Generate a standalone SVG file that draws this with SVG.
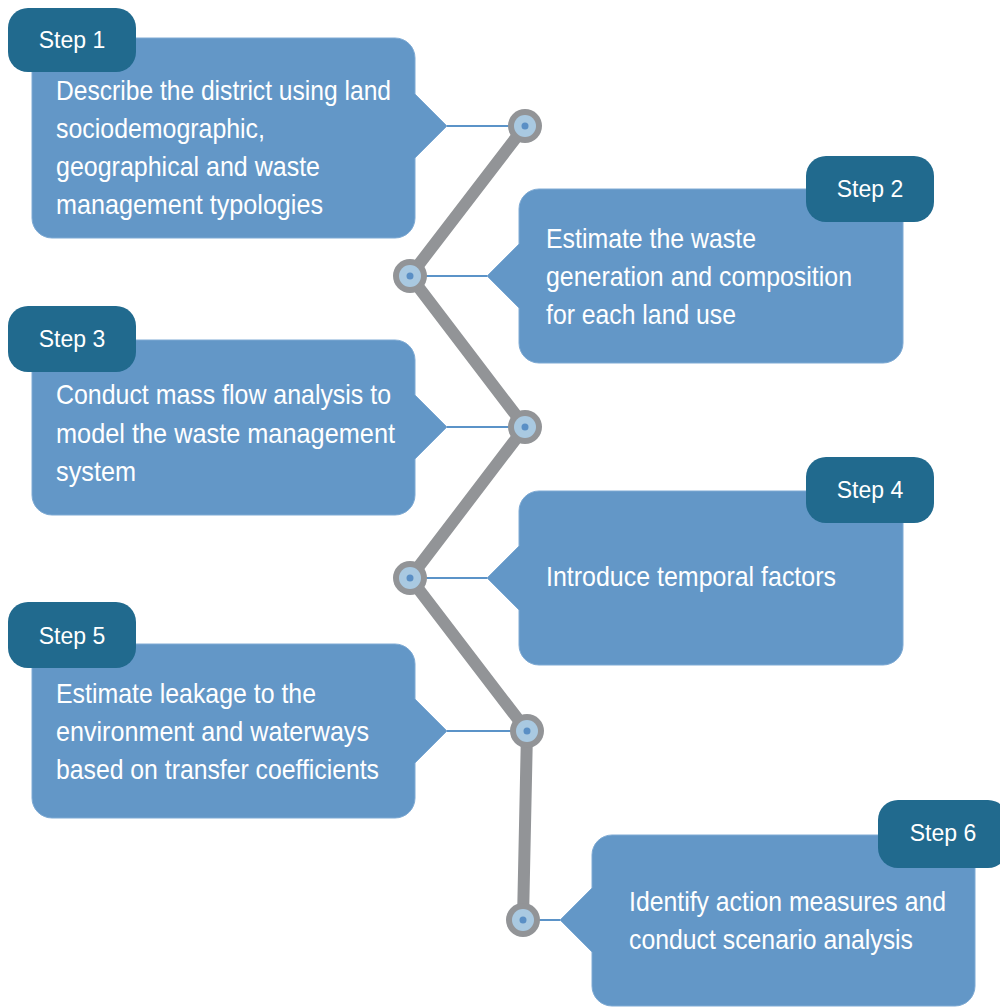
<svg xmlns="http://www.w3.org/2000/svg" width="1000" height="1008" viewBox="0 0 1000 1008">
<style>
.box{fill:#6397c7;stroke:#7eaad4;stroke-width:1}
.tab{fill:#216a8e}
.txt{font-family:"Liberation Sans Narrow","Liberation Sans",Arial,sans-serif;font-size:28px;fill:#ffffff}
.tabtxt{font-family:"Liberation Sans",Arial,sans-serif;font-size:23px;fill:#ffffff;text-anchor:middle}
.spine{fill:none;stroke:#929497;stroke-width:12;stroke-linejoin:round;stroke-linecap:round}
.link{stroke:#5b93c8;stroke-width:2}
.ring{fill:#929497}
.inner{fill:#a9c9e1}
.dot{fill:#5a8fc5}
</style>
<rect width="1000" height="1008" fill="#ffffff"/>
<g id="connectors">
<path class="spine" d="M525,126 L410,276 L525,427 L410,578 L527,731 L523,920"/>
<line class="link" x1="447" y1="126" x2="525" y2="126"/>
<line class="link" x1="487" y1="276" x2="410" y2="276"/>
<line class="link" x1="447" y1="427" x2="525" y2="427"/>
<line class="link" x1="487" y1="578" x2="410" y2="578"/>
<line class="link" x1="447" y1="731" x2="527" y2="731"/>
<line class="link" x1="560" y1="920" x2="523" y2="920"/>
</g>
<g id="joints">
<g id="joint1"><circle class="ring" cx="525" cy="126" r="17"/><circle class="inner" cx="525" cy="126" r="11"/><circle class="dot" cx="525" cy="126" r="3.5"/></g>
<g id="joint2"><circle class="ring" cx="410" cy="276" r="17"/><circle class="inner" cx="410" cy="276" r="11"/><circle class="dot" cx="410" cy="276" r="3.5"/></g>
<g id="joint3"><circle class="ring" cx="525" cy="427" r="17"/><circle class="inner" cx="525" cy="427" r="11"/><circle class="dot" cx="525" cy="427" r="3.5"/></g>
<g id="joint4"><circle class="ring" cx="410" cy="578" r="17"/><circle class="inner" cx="410" cy="578" r="11"/><circle class="dot" cx="410" cy="578" r="3.5"/></g>
<g id="joint5"><circle class="ring" cx="527" cy="731" r="17"/><circle class="inner" cx="527" cy="731" r="11"/><circle class="dot" cx="527" cy="731" r="3.5"/></g>
<g id="joint6"><circle class="ring" cx="523" cy="920" r="17"/><circle class="inner" cx="523" cy="920" r="11"/><circle class="dot" cx="523" cy="920" r="3.5"/></g>
</g>
<g id="step1">
<path class="box" d="M52,38 H395 A20,20 0 0 1 415,58 V94 L447,126 L415,158 V218 A20,20 0 0 1 395,238 H52 A20,20 0 0 1 32,218 V58 A20,20 0 0 1 52,38 Z"/>
<rect class="tab" x="8" y="8" width="128" height="64" rx="20"/>
<text class="tabtxt" x="72" y="48">Step 1</text>
<text class="txt" x="56" y="100" textLength="335" lengthAdjust="spacingAndGlyphs">Describe the district using land</text>
<text class="txt" x="56" y="138" textLength="209" lengthAdjust="spacingAndGlyphs">sociodemographic,</text>
<text class="txt" x="56" y="176" textLength="264" lengthAdjust="spacingAndGlyphs">geographical and waste</text>
<text class="txt" x="56" y="214" textLength="267" lengthAdjust="spacingAndGlyphs">management typologies</text>
</g>
<g id="step2">
<path class="box" d="M539,189 H883 A20,20 0 0 1 903,209 V343 A20,20 0 0 1 883,363 H539 A20,20 0 0 1 519,343 V308 L487,276 L519,244 V209 A20,20 0 0 1 539,189 Z"/>
<rect class="tab" x="806" y="156" width="128" height="66" rx="20"/>
<text class="tabtxt" x="870" y="197">Step 2</text>
<text class="txt" x="546" y="248" textLength="210" lengthAdjust="spacingAndGlyphs">Estimate the waste</text>
<text class="txt" x="546" y="286" textLength="306" lengthAdjust="spacingAndGlyphs">generation and composition</text>
<text class="txt" x="546" y="324" textLength="190" lengthAdjust="spacingAndGlyphs">for each land use</text>
</g>
<g id="step3">
<path class="box" d="M52,340 H395 A20,20 0 0 1 415,360 V395 L447,427 L415,459 V495 A20,20 0 0 1 395,515 H52 A20,20 0 0 1 32,495 V360 A20,20 0 0 1 52,340 Z"/>
<rect class="tab" x="8" y="306" width="128" height="66" rx="20"/>
<text class="tabtxt" x="72" y="347">Step 3</text>
<text class="txt" x="56" y="404" textLength="335" lengthAdjust="spacingAndGlyphs">Conduct mass flow analysis to</text>
<text class="txt" x="56" y="443" textLength="339" lengthAdjust="spacingAndGlyphs">model the waste management</text>
<text class="txt" x="56" y="481" textLength="80" lengthAdjust="spacingAndGlyphs">system</text>
</g>
<g id="step4">
<path class="box" d="M539,491 H883 A20,20 0 0 1 903,511 V645 A20,20 0 0 1 883,665 H539 A20,20 0 0 1 519,645 V610 L487,578 L519,546 V511 A20,20 0 0 1 539,491 Z"/>
<rect class="tab" x="806" y="457" width="128" height="66" rx="20"/>
<text class="tabtxt" x="870" y="498">Step 4</text>
<text class="txt" x="546" y="586" textLength="290" lengthAdjust="spacingAndGlyphs">Introduce temporal factors</text>
</g>
<g id="step5">
<path class="box" d="M52,644 H395 A20,20 0 0 1 415,664 V699 L447,731 L415,763 V798 A20,20 0 0 1 395,818 H52 A20,20 0 0 1 32,798 V664 A20,20 0 0 1 52,644 Z"/>
<rect class="tab" x="8" y="602" width="128" height="66" rx="20"/>
<text class="tabtxt" x="72" y="644">Step 5</text>
<text class="txt" x="56" y="703" textLength="260" lengthAdjust="spacingAndGlyphs">Estimate leakage to the</text>
<text class="txt" x="56" y="741" textLength="313" lengthAdjust="spacingAndGlyphs">environment and waterways</text>
<text class="txt" x="56" y="779" textLength="323" lengthAdjust="spacingAndGlyphs">based on transfer coefficients</text>
</g>
<g id="step6">
<path class="box" d="M612,835 H955 A20,20 0 0 1 975,855 V986 A20,20 0 0 1 955,1006 H612 A20,20 0 0 1 592,986 V952 L560,920 L592,888 V855 A20,20 0 0 1 612,835 Z"/>
<rect class="tab" x="878" y="800" width="130" height="68" rx="20"/>
<text class="tabtxt" x="943" y="841">Step 6</text>
<text class="txt" x="629" y="911" textLength="317" lengthAdjust="spacingAndGlyphs">Identify action measures and</text>
<text class="txt" x="629" y="949" textLength="284" lengthAdjust="spacingAndGlyphs">conduct scenario analysis</text>
</g>
</svg>
